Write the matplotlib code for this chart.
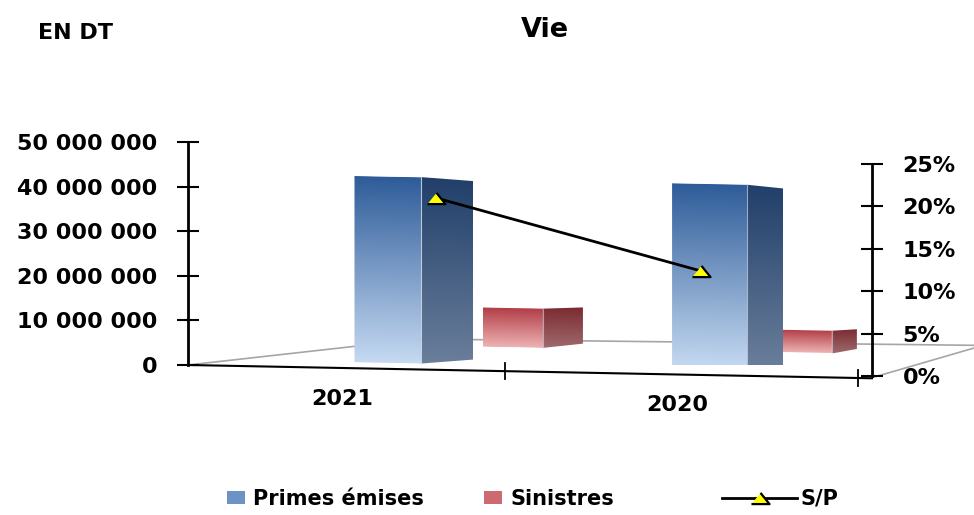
import math
import numpy as np
import matplotlib.pyplot as plt
from matplotlib.patches import Polygon, Patch
from matplotlib.lines import Line2D
from matplotlib.transforms import Affine2D
from matplotlib.colors import LinearSegmentedColormap

# --- data ---
years = ['2021', '2020']
primes = [41.8e6, 41.5e6]
sinistres = [8.8e6, 5.1e6]
sp_ratio = [0.210, 0.124]

left_ticks = [0, 10e6, 20e6, 30e6, 40e6, 50e6]
right_ticks = [0, 0.05, 0.10, 0.15, 0.20, 0.25]

# --- layout (pixels, canvas 974 x 515) ---
W, H = 974, 515
year_x = [0.46, 1.46]
blue_x, blue_w, blue_depth = [0.597, 1.557], [0.20, 0.224], [52, 36]
red_x, red_w, red_depth = [0.970, 1.840], [0.179, 0.164], [40, 25]
sp_x = [0.74, 1.53]

fig = plt.figure(figsize=(W / 100, H / 100), dpi=100)


def box(x0, y0, x1, y1):
    return [x0 / W, 1 - y1 / H, (x1 - x0) / W, (y1 - y0) / H]


ax = fig.add_axes(box(188, 142, 858, 365))
ax.set_xlim(0, 2)
ax.set_ylim(0, 50e6)
ax.set_autoscale_on(False)

XPX = 670 / 2      # pixels per category unit
YPX = 223 / 50e6   # pixels per DT


def dx(px):
    return px / XPX


def dy(px):
    return px / YPX


# floor tilted a little: right side sits lower
skew = Affine2D().skew(0, math.atan(-13 / 223))
T = ax.transScale + ax.transLimits + skew + ax.transAxes


def shade(verts, c_top, c_bot, z):
    poly = Polygon(verts, closed=True, transform=T, fc='none', ec='none', zorder=z)
    ax.add_patch(poly)
    xs = [v[0] for v in verts]
    ys = [v[1] for v in verts]
    cmap = LinearSegmentedColormap.from_list('g', [c_bot, c_top])
    grad = np.linspace(0, 1, 256).reshape(-1, 1)
    im = ax.imshow(grad, cmap=cmap, origin='lower', aspect='auto',
                   extent=[min(xs), max(xs), min(ys), max(ys)],
                   interpolation='bilinear', zorder=z)
    im.set_transform(T)
    im.set_clip_path(poly)


def column(xc, w, value, base_px, depth_px, top_shift, front, side, z):
    x0, x1 = xc - w / 2, xc + w / 2
    y0 = dy(base_px)
    y1 = y0 + value
    x2 = x1 + dx(depth_px)
    shade([(x1, y0), (x1, y1), (x2, y1 + dy(top_shift)), (x2, y0 + dy(5))],
          side[0], side[1], z)
    shade([(x0, y0), (x0, y1), (x1, y1), (x1, y0)], front[0], front[1], z + 0.1)
    # light edge where front meets side
    ax.plot([x1, x1], [y0, y1], color='#d8e2ee', lw=0.8, alpha=0.6,
            transform=T, zorder=z + 0.2)


# floor outline
floor_x = [0, dx(232), dx(795), dx(682)]
floor_y = [0, dy(30.5), dy(35), 0]
ax.plot(floor_x, floor_y, color='#a6a6a6', lw=1.2, transform=T, zorder=1,
        clip_on=False)

for i in range(len(years)):
    column(red_x[i], red_w[i], sinistres[i], 24, red_depth[i], 2,
           ('#b23c46', '#edb3b3'), ('#7a2a30', '#a06b6e'), 2)
    column(blue_x[i], blue_w[i], primes[i], 6, blue_depth[i], -3,
           ('#2e5c99', '#c6daf2'), ('#213f6a', '#6b7f9b'), 3)

# front edge of the floor with category separators
ax.plot([0, dx(684)], [0, 0], color='black', lw=1.5, transform=T, zorder=4,
        clip_on=False)
for xt in [dx(317), 2.0]:
    ax.plot([xt, xt], [dy(-8), dy(8)], color='black', lw=1.3, transform=T,
            zorder=4, clip_on=False)

for xp, yr in zip(year_x, years):
    ax.annotate(yr, (xp, 0), xycoords=T, xytext=(0, -31),
                textcoords='offset pixels', ha='center', va='center',
                fontsize=16, fontweight='bold', annotation_clip=False)

# primary axis
for s in ['top', 'right', 'bottom']:
    ax.spines[s].set_visible(False)
ax.spines['left'].set_linewidth(2)
ax.set_xticks([])
ax.set_yticks(left_ticks,
              labels=[f'{int(v):,}'.replace(',', ' ') for v in left_ticks],
              fontsize=16, fontweight='bold')
ax.tick_params(axis='y', direction='inout', length=16, width=1.5, pad=14)
ax.patch.set_visible(False)

# secondary axis for S/P
ax2 = fig.add_axes(box(188, 164, 872, 376))
ax2.set_xlim(0, dx(684))
ax2.set_ylim(0, 0.25)
ax2.patch.set_visible(False)
for s in ['top', 'left', 'bottom']:
    ax2.spines[s].set_visible(False)
ax2.spines['right'].set_linewidth(2)
ax2.set_xticks([])
ax2.yaxis.tick_right()
ax2.set_yticks(right_ticks, labels=[f'{round(p * 100)}%' for p in right_ticks],
               fontsize=16, fontweight='bold')
ax2.tick_params(axis='y', direction='inout', length=16, width=1.5, pad=14)

tri = [(-1, -0.62), (1, -0.62), (0, 0.62)]
ax2.plot(sp_x, sp_ratio, color='black', lw=2, marker=tri, ms=13,
         mfc='#ffff00', mec='black', mew=1.6, zorder=5, clip_on=False)

# titles
fig.text(76 / W, 1 - 33 / H, 'EN DT', ha='center', va='center',
         fontsize=16, fontweight='bold')
fig.text(545 / W, 1 - 30 / H, 'Vie', ha='center', va='center',
         fontsize=19.5, fontweight='bold')

# legends
bar_handles = [Patch(fc='#6d93c6', ec='none'), Patch(fc='#cc6a72', ec='none')]
fig.legend(bar_handles, ['Primes émises', 'Sinistres'], ncol=2,
           loc='center left', bbox_to_anchor=(227 / W, 1 - 499 / H),
           frameon=False, borderpad=0, borderaxespad=0,
           handlelength=0.85, handleheight=0.55, handletextpad=0.4,
           columnspacing=2.9, prop={'size': 15, 'weight': 'bold'})
sp_handle = Line2D([], [], color='black', lw=2, marker=tri, ms=13,
                   mfc='#ffff00', mec='black', mew=1.6)
fig.legend([sp_handle], ['S/P'], loc='center left',
           bbox_to_anchor=(722 / W, 1 - 499 / H), frameon=False, borderpad=0,
           borderaxespad=0, handlelength=3.6, handletextpad=0.15,
           prop={'size': 15, 'weight': 'bold'})

fig.savefig('out.png', dpi=100)
